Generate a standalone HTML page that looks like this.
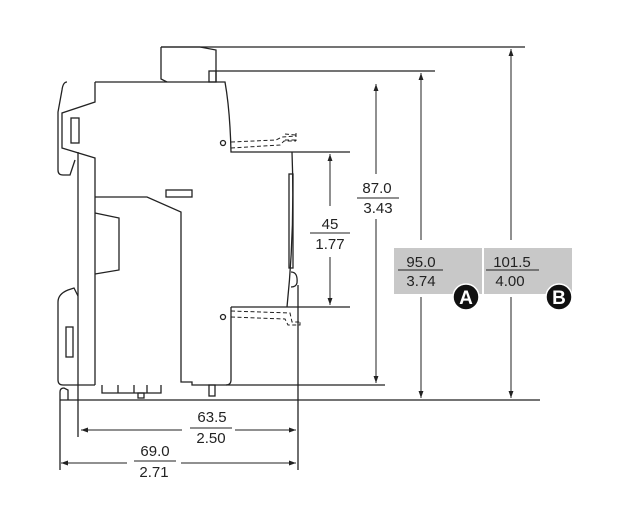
<!DOCTYPE html>
<html><head><meta charset="utf-8"><style>
html,body{margin:0;padding:0;background:#fff}
svg{display:block}
text{font-family:"Liberation Sans",sans-serif;fill:#222}
</style></head><body>
<svg width="644" height="525" viewBox="0 0 644 525" xmlns="http://www.w3.org/2000/svg">
<defs>
<marker id="a" viewBox="0 0 10 10" refX="10" refY="5" markerWidth="7" markerHeight="7" orient="auto-start-reverse"><path d="M0,1.5 L10,5 L0,8.5 z" fill="#222"/></marker>
</defs>
<g fill="none" stroke="#222" stroke-width="1.3">
<path d="M161,47 L161,79 L167,82 M161,47 L200,47 L216,50 L216,82"/>
<rect x="209" y="71" width="7" height="11"/>
<line x1="161" y1="47" x2="525" y2="47"/>
<line x1="216" y1="71" x2="435" y2="71"/>
<path d="M95,82 L225,82 Q230,110 231,152 L350,152"/>
<path d="M292,152 Q295,230 287,307"/>
<path d="M231,307 L350,307"/>
<path d="M231,307 L231,380 Q231,385 226,385 L192,385 L192,382 L181,382 L181,212 L147,197 L95,197"/>
<path d="M95,82 L95,102 L62,113 L62,148 L95,158 L95,385"/>
<path d="M67,82 Q63,82 62,90 L58,112 L58,170 Q58,175 63,175 L70,175 L75,160"/>
<path d="M95,213 L119,218 L119,270 L95,274"/>
<rect x="71" y="118" width="8" height="25"/>
<rect x="166" y="190" width="26" height="7"/>
<rect x="289" y="174" width="4" height="94"/>
<path d="M291,272 Q298,272 297,283 Q296,287 291,287"/>
<circle cx="223" cy="143" r="2.5"/>
<circle cx="223" cy="317" r="2.5"/>
<path d="M58,302 Q58,294 68,290 L74,288 L78,296 M58,302 L58,380 Q58,385 63,385 L95,385"/>
<rect x="66" y="327" width="7" height="30"/>
<path d="M60,392 Q60,388 64,388 L68,390 L68,400"/>
<line x1="78" y1="152" x2="78" y2="437"/>
<line x1="60" y1="392" x2="60" y2="470"/>
<path d="M102,385 L102,393 L161,393 L161,385 M118,385 L118,393 M134,385 L134,393 M147,385 L147,393"/>
<rect x="138" y="393" width="6" height="5"/>
<rect x="209" y="385" width="6" height="11"/>
<line x1="226" y1="385" x2="385" y2="385"/>
<line x1="60" y1="400" x2="540" y2="400"/>
<line x1="298" y1="285" x2="298" y2="470"/>
</g>
<g fill="none" stroke="#222" stroke-width="1" stroke-dasharray="4,2.5">
<path d="M231,142 L276,140 L282,137 L296,136"/>
<path d="M231,148 L280,145 L284,141 L296,141"/>
<path d="M285,134 L296,135 M285,140 L296,140 M296,133 L296,141"/>
<path d="M231,311 L290,313 L292,322 L300,322"/>
<path d="M231,317 L285,319 L288,325 L300,325 L300,320"/>
</g>
<g stroke="#222" stroke-width="1" fill="none">
<line x1="330" y1="206" x2="330" y2="154" marker-end="url(#a)"/>
<line x1="330" y1="257" x2="330" y2="305" marker-end="url(#a)"/>
<line x1="376" y1="174" x2="376" y2="84" marker-end="url(#a)"/>
<line x1="376" y1="219" x2="376" y2="383" marker-end="url(#a)"/>
<line x1="421" y1="240" x2="421" y2="73" marker-end="url(#a)"/>
<line x1="421" y1="297" x2="421" y2="398" marker-end="url(#a)"/>
<line x1="511" y1="240" x2="511" y2="49" marker-end="url(#a)"/>
<line x1="511" y1="297" x2="511" y2="398" marker-end="url(#a)"/>
<line x1="182" y1="430" x2="81" y2="430" marker-end="url(#a)"/>
<line x1="235" y1="430" x2="296" y2="430" marker-end="url(#a)"/>
<line x1="127" y1="463" x2="61" y2="463" marker-end="url(#a)"/>
<line x1="181" y1="463" x2="296" y2="463" marker-end="url(#a)"/>
</g>
<g font-size="15" text-anchor="middle">
<text x="330" y="229">45</text><line x1="310" y1="233" x2="350" y2="233" stroke="#222"/><text x="330" y="249">1.77</text>
<text x="377" y="193">87.0</text><line x1="357" y1="198" x2="399" y2="198" stroke="#222"/><text x="378" y="213">3.43</text>
<text x="212" y="422">63.5</text><line x1="190" y1="428" x2="232" y2="428" stroke="#222"/><text x="211" y="443">2.50</text>
<text x="155" y="456">69.0</text><line x1="134" y1="461" x2="176" y2="461" stroke="#222"/><text x="154" y="477">2.71</text>
</g>
<rect x="394" y="248" width="88" height="46" fill="#c8c8c8"/>
<rect x="484" y="248" width="88" height="46" fill="#c8c8c8"/>
<g font-size="15" text-anchor="middle">
<text x="421" y="267">95.0</text><line x1="398" y1="270" x2="443" y2="270" stroke="#222"/><text x="421" y="286">3.74</text>
<text x="512" y="267">101.5</text><line x1="486" y1="270" x2="539" y2="270" stroke="#222"/><text x="510" y="286">4.00</text>
</g>
<circle cx="466" cy="297" r="13" fill="#111" stroke="#fff" stroke-width="1.5"/>
<circle cx="559" cy="297" r="13" fill="#111" stroke="#fff" stroke-width="1.5"/>
<text x="466" y="304" font-size="19" font-weight="bold" text-anchor="middle" style="fill:#fff">A</text>
<text x="559" y="304" font-size="19" font-weight="bold" text-anchor="middle" style="fill:#fff">B</text>
</svg>
</body></html>
